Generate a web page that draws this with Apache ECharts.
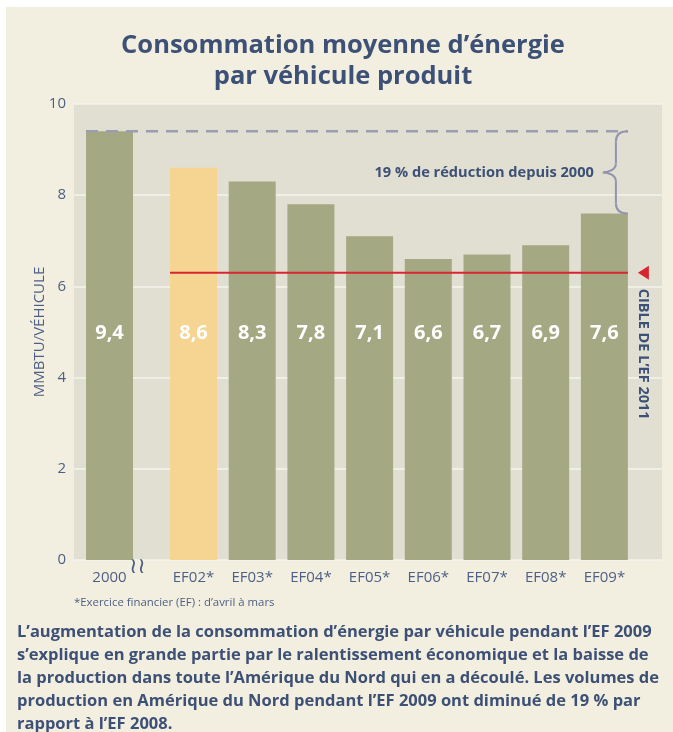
<!DOCTYPE html>
<html><head><meta charset="utf-8">
<script src="https://cdn.jsdelivr.net/npm/echarts@6/dist/echarts.min.js"></script>
<style>
html,body{margin:0;padding:0;background:#ffffff;}
#panel{position:absolute;left:6px;top:7px;width:667px;height:725px;background:#f3efe0;}
#chart{position:absolute;left:0;top:0;width:673px;height:732px;}
</style></head>
<body><div id="panel"></div><div id="chart"></div>
<script>
// ---- data ----
const baseCategory = ['2000'];
const baseValue = [9.4];
const fyCategories = ['EF02*','EF03*','EF04*','EF05*','EF06*','EF07*','EF08*','EF09*'];
const fyValues = [8.6, 8.3, 7.8, 7.1, 6.6, 6.7, 6.9, 7.6];
const highlightCategory = 'EF02*';
const target2011 = 6.3;
const yMin = 0, yMax = 10, yStep = 2;

const titleText = 'Consommation moyenne d\u2019énergie\npar véhicule produit';
const yName = 'MMBTU/VÉHICULE';
const braceText = '19 % de réduction depuis 2000';
const targetText = 'CIBLE DE L\u2019EF 2011';
const footnote = '*Exercice financier (EF) : d\u2019avril à mars';
const paragraph = 'L\u2019augmentation de la consommation d\u2019énergie par véhicule pendant l\u2019EF 2009\ns\u2019explique en grande partie par le ralentissement économique et la baisse de\nla production dans toute l\u2019Amérique du Nord qui en a découlé. Les volumes de\nproduction en Amérique du Nord pendant l\u2019EF 2009 ont diminué de 19 % par\nrapport à l\u2019EF 2008.';

// ---- style ----
const FONT = 'Open Sans';
const DARK = '#3d5075';
const AXIS = '#4d5f84';
const OLIVE = '#a5a983';
const YELLOW = '#f6d492';
const PLOT_BG = '#e0dfd2';

const chart = echarts.init(document.getElementById('chart'), null, {renderer:'canvas'});

const plotTop = 104, plotBottom = 172;
const barW = 47, step = 58.7;
const label = {
  show: true, position: 'insideBottom', distance: 217,
  color: '#ffffff', fontFamily: FONT, fontWeight: 'bold', fontSize: 20,
  formatter: p => String(p.value).replace('.', ',')
};
const hiddenY = i => ({type:'value', gridIndex:i, min:yMin, max:yMax, interval:yStep, show:false});
const catX = (i, data) => ({
  type:'category', gridIndex:i, data:data,
  axisLine:{show:false}, axisTick:{show:false},
  axisLabel:{color:AXIS, fontFamily:FONT, fontSize:15, margin:10}
});

const option = {
  backgroundColor: 'transparent',
  animation: false,
  grid: [
    {left:74, right:11, top:plotTop, bottom:plotBottom, show:true, backgroundColor:PLOT_BG, borderWidth:0},
    {left:109.5 - step/2, width:step, top:plotTop, bottom:plotBottom},
    {left:193.5 - step/2, width:step*fyCategories.length, top:plotTop, bottom:plotBottom}
  ],
  xAxis: [
    {type:'value', gridIndex:0, min:0, max:1, show:false},
    catX(1, baseCategory),
    catX(2, fyCategories)
  ],
  yAxis: [
    {type:'value', gridIndex:0, min:yMin, max:yMax, interval:yStep,
     axisLine:{show:false}, axisTick:{show:false},
     axisLabel:{color:AXIS, fontFamily:FONT, fontSize:15, margin:8},
     splitLine:{show:true, lineStyle:{color:'#f6f4ec', width:1.5}}},
    hiddenY(1), hiddenY(2)
  ],
  series: [
    {type:'bar', xAxisIndex:1, yAxisIndex:1, barWidth:barW, data:baseValue,
     itemStyle:{color:OLIVE}, label:label},
    {type:'bar', xAxisIndex:2, yAxisIndex:2, barWidth:barW,
     data: fyValues.map((v,i)=>({value:v, itemStyle:{color: fyCategories[i]===highlightCategory ? YELLOW : OLIVE}})),
     label:label}
  ]
};
chart.setOption(option);

// data-driven annotations via the chart's own scales
const yPx = v => chart.convertToPixel({yAxisIndex:0}, v);
const xBase = chart.convertToPixel({xAxisIndex:1}, baseCategory[0]);
const xFirst = chart.convertToPixel({xAxisIndex:2}, fyCategories[0]);
const xLast = chart.convertToPixel({xAxisIndex:2}, fyCategories[fyCategories.length-1]);
const yTop = yPx(baseValue[0]);
const yEnd = yPx(fyValues[fyValues.length-1]);
const yMid = (yTop + yEnd) / 2;
const yTarget = yPx(target2011);
const yCenter = (yPx(yMin) + yPx(yMax)) / 2;
const bx = xLast + barW/2;
const tip = bx - 25, bv = bx - 12;
const braceStyle = {stroke:'#9294ad', lineWidth:2, fill:null};
const brace = [
  {type:'bezierCurve', shape:{x1:bx, y1:yTop, x2:bv, y2:yTop+10, cpx1:bv, cpy1:yTop}, style:braceStyle, z:50},
  {type:'line', shape:{x1:bv, y1:yTop+10, x2:bv, y2:yMid-9}, style:braceStyle, z:50},
  {type:'bezierCurve', shape:{x1:bv, y1:yMid-9, x2:tip, y2:yMid, cpx1:bv, cpy1:yMid-3, cpx2:tip+6, cpy2:yMid}, style:braceStyle, z:50},
  {type:'bezierCurve', shape:{x1:tip, y1:yMid, x2:bv, y2:yMid+9, cpx1:tip+6, cpy1:yMid, cpx2:bv, cpy2:yMid+3}, style:braceStyle, z:50},
  {type:'line', shape:{x1:bv, y1:yMid+9, x2:bv, y2:yEnd-10}, style:braceStyle, z:50},
  {type:'bezierCurve', shape:{x1:bv, y1:yEnd-10, x2:bx, y2:yEnd, cpx1:bv, cpy1:yEnd}, style:braceStyle, z:50}
];

chart.setOption({graphic:{elements:[
  {type:'text', x:343, y:30, style:{text:titleText, fill:DARK, font:`bold 25.5px "${FONT}"`, textAlign:'center', lineHeight:31}},
  {type:'text', x:40, y:yCenter, rotation:Math.PI/2, style:{text:yName, fill:AXIS, font:`15px "${FONT}"`, textAlign:'center', textVerticalAlign:'middle'}},
  {type:'line', shape:{x1:xBase - barW/2, y1:yTop, x2:bx, y2:yTop}, style:{stroke:'#9c9db1', lineWidth:2.5, lineDash:[12,8]}, z:50},
  ...brace,
  {type:'text', x:tip - 9, y:yMid, style:{text:braceText, fill:DARK, font:`bold 14.6px "${FONT}"`, textAlign:'right', textVerticalAlign:'middle'}, z:50},
  {type:'line', shape:{x1:xFirst - barW/2, y1:yTarget, x2:xLast + barW/2, y2:yTarget}, style:{stroke:'#d7262f', lineWidth:2}, z:50},
  {type:'polygon', shape:{points:[[bx+10, yTarget],[bx+21, yTarget-7],[bx+21, yTarget+7]]}, style:{fill:'#d7262f'}, z:50},
  {type:'text', x:bx+15, y:yTarget+16, rotation:-Math.PI/2, style:{text:targetText, fill:DARK, font:`bold 14.5px "${FONT}"`, textAlign:'left', textVerticalAlign:'middle'}, z:50},
  {type:'text', x:(xBase + xFirst)/2 - 14, y:567, style:{text:'\u2240\u2240', fill:AXIS, font:`22px "DejaVu Sans"`, textAlign:'center', textVerticalAlign:'middle'}, z:50},
  {type:'text', x:74, y:603, style:{text:footnote, fill:AXIS, font:`11.4px "${FONT}"`, textAlign:'left', textVerticalAlign:'middle'}},
  {type:'text', x:17, y:621, style:{text:paragraph, fill:DARK, font:`bold 16.5px "${FONT}"`, textAlign:'left', lineHeight:23}}
]}});
</script></body></html>
